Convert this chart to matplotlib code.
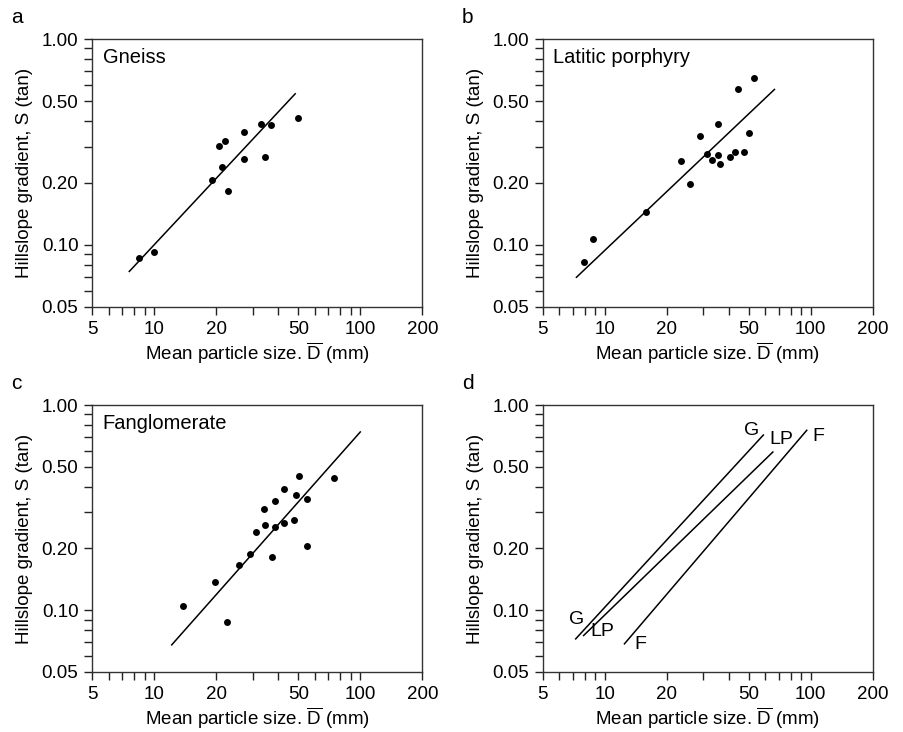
import matplotlib
matplotlib.use("Agg")
import matplotlib.pyplot as plt
from matplotlib.ticker import FixedLocator, FixedFormatter, NullFormatter

plt.rcParams['font.family'] = ['Liberation Sans', 'DejaVu Sans']
plt.rcParams['mathtext.fontset'] = 'custom'
plt.rcParams['mathtext.rm'] = 'Liberation Sans'

# panel a: Gneiss
gneiss_x = [8.4, 10.0, 19.0, 20.6, 22.1, 21.2, 22.8, 27.2, 27.2, 33.0, 36.8, 34.3, 49.7]
gneiss_y = [0.0865, 0.0925, 0.206, 0.303, 0.321, 0.238, 0.183, 0.354, 0.261, 0.387, 0.381, 0.268, 0.414]
gneiss_fit_x = [7.56, 48.3]
gneiss_fit_y = [0.0744, 0.542]

# panel b: Latitic porphyry
lp_x = [7.93, 8.82, 15.8, 23.4, 26.0, 29.1, 31.3, 33.0, 35.3, 35.3, 36.1, 40.8, 42.8, 44.2, 47.4, 50.3, 53.3]
lp_y = [0.0826, 0.107, 0.144, 0.257, 0.198, 0.338, 0.275, 0.259, 0.388, 0.274, 0.247, 0.268, 0.2825, 0.573, 0.2825, 0.350, 0.645]
lp_fit_x = [7.29, 66.7]
lp_fit_y = [0.0697, 0.569]

# panel c: Fanglomerate
fang_x = [13.8, 19.8, 22.6, 25.9, 29.2, 31.3, 34.2, 34.5, 37.2, 38.7, 38.7, 42.5, 42.5, 47.6, 48.5, 50.5, 54.9, 55.3, 74.5]
fang_y = [0.1046, 0.138, 0.0878, 0.166, 0.188, 0.2406, 0.3115, 0.2606, 0.1824, 0.341, 0.2556, 0.388, 0.2655, 0.2764, 0.366, 0.451, 0.205, 0.348, 0.441]
fang_fit_x = [12.15, 100.0]
fang_fit_y = [0.0678, 0.739]

# panel d: the three regression lines
d_names = ['G', 'LP', 'F']
d_x = [[7.23, 58.9], [7.9, 65.5], [12.47, 95.7]]
d_y = [[0.0725, 0.714], [0.0753, 0.590], [0.0686, 0.753]]
d_lab_low = [(7.34, 0.0897), (9.74, 0.0787), (14.9, 0.0678)]
d_lab_high = [(51.9, 0.755), (71.8, 0.681), (109.2, 0.702)]

x_major = [5, 10, 20, 50, 100, 200]
x_minor = [6, 7, 8, 9, 30, 40, 60, 70, 80, 90]
y_major = [0.05, 0.10, 0.20, 0.50, 1.00]
y_minor = [0.06, 0.07, 0.08, 0.09, 0.3, 0.4, 0.6, 0.7, 0.8, 0.9]

fig = plt.figure(figsize=(9.04, 7.32), dpi=100)
W, H = 904, 732
boxes = [(92.3, 39, 330, 268), (542.7, 39, 330, 268),
         (92.3, 405, 330, 267), (542.7, 405, 330, 267)]
axes = []
for (l, t, w, h) in boxes:
    axes.append(fig.add_axes([l / W, (H - t - h) / H, w / W, h / H]))

for ax, letter in zip(axes, 'abcd'):
    ax.set_xscale('log')
    ax.set_yscale('log')
    ax.set_xlim(5, 200)
    ax.set_ylim(0.05, 1.0)
    ax.xaxis.set_major_locator(FixedLocator(x_major))
    ax.xaxis.set_major_formatter(FixedFormatter([str(v) for v in x_major]))
    ax.xaxis.set_minor_locator(FixedLocator(x_minor))
    ax.xaxis.set_minor_formatter(NullFormatter())
    ax.yaxis.set_major_locator(FixedLocator(y_major))
    ax.yaxis.set_major_formatter(FixedFormatter(['%.2f' % v for v in y_major]))
    ax.yaxis.set_minor_locator(FixedLocator(y_minor))
    ax.yaxis.set_minor_formatter(NullFormatter())
    ax.tick_params(which='both', direction='out', length=6, width=1, labelsize=13.5, color='#222222')
    ax.tick_params(which='major', pad=4)
    for s in ax.spines.values():
        s.set_linewidth(1)
        s.set_color('#333333')
    ax.set_xlabel('Mean particle size. $\\overline{\\mathrm{D}}$ (mm)', fontsize=13.5, labelpad=2)
    ax.set_ylabel('Hillslope gradient, S (tan)', fontsize=13.5, labelpad=6)
    ax.text(-0.245, 1.045, letter, transform=ax.transAxes, fontsize=15, va='bottom', ha='left')

for ax, xs, ys, fx, fy, name in [
        (axes[0], gneiss_x, gneiss_y, gneiss_fit_x, gneiss_fit_y, 'Gneiss'),
        (axes[1], lp_x, lp_y, lp_fit_x, lp_fit_y, 'Latitic porphyry'),
        (axes[2], fang_x, fang_y, fang_fit_x, fang_fit_y, 'Fanglomerate')]:
    ax.plot(fx, fy, color='black', lw=1.1)
    ax.plot(xs, ys, 'o', color='black', ms=5, mec='none')
    ax.text(0.032, 0.965, name, transform=ax.transAxes, fontsize=14.5, va='top', ha='left')

for name, xs, ys, lo, hi in zip(d_names, d_x, d_y, d_lab_low, d_lab_high):
    axes[3].plot(xs, ys, color='black', lw=1.1)
    axes[3].text(lo[0], lo[1], name, fontsize=14, ha='center', va='center')
    axes[3].text(hi[0], hi[1], name, fontsize=14, ha='center', va='center')

fig.savefig('out.png', dpi=100)
